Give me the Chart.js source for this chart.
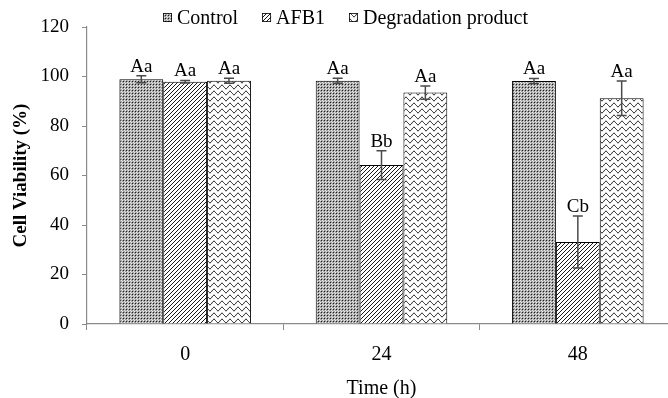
<!DOCTYPE html>
<html>
<head>
<meta charset="utf-8">
<script src="https://cdn.jsdelivr.net/npm/chart.js@4.4.1/dist/chart.umd.min.js"></script>
<style>
  html, body { margin: 0; padding: 0; background: #fff; overflow: hidden; }
  #wrap { width: 700px; height: 398px; }
</style>
</head>
<body>
<div id="wrap"><canvas id="chart" width="700" height="398"></canvas></div>
<script>
// time points (h)
const timeLabels = ["0", "24", "48"];

// cell viability (%) and SD
const controlVals = [98.9, 98.3, 98.2];
const controlErr = [1.4, 1.0, 1.0];
const afb1Vals = [97.9, 64.2, 33.1];
const afb1Err = [0.5, 5.8, 10.5];
const degVals = [98.3, 93.5, 91.2];
const degErr = [1.0, 2.7, 7.0];

// significance letters above each bar
const controlSig = ["Aa", "Aa", "Aa"];
const afb1Sig = ["Aa", "Bb", "Cb"];
const degSig = ["Aa", "Aa", "Aa"];

const yTicks = [0, 20, 40, 60, 80, 100, 120];

const serif = "'Liberation Serif', 'Times New Roman', serif";

function makePattern(w, h, draw) {
  const c = document.createElement("canvas");
  c.width = w;
  c.height = h;
  const g = c.getContext("2d");
  g.fillStyle = "#fff";
  g.fillRect(0, 0, w, h);
  draw(g);
  return g.createPattern(c, "repeat");
}

// fine dotted grid
const dotFill = makePattern(3, 3, (g) => {
  g.fillStyle = "#a4a4a4";
  g.fillRect(0, 0, 3, 3);
  g.fillStyle = "#1e1e1e";
  g.fillRect(0, 0, 1, 1);
  g.fillStyle = "#ececec";
  g.fillRect(1, 1, 1, 1);
  g.fillRect(2, 2, 1, 1);
});

// narrow diagonal stripes
const stripeFill = makePattern(4, 4, (g) => {
  g.strokeStyle = "#000";
  g.lineWidth = 0.9;
  g.beginPath();
  g.moveTo(-1, 5); g.lineTo(5, -1);
  g.moveTo(-1, 1); g.lineTo(1, -1);
  g.moveTo(3, 5); g.lineTo(5, 3);
  g.stroke();
});

// horizontal waves
const waveFill = makePattern(8, 6, (g) => {
  g.strokeStyle = "#000";
  g.lineWidth = 1;
  g.beginPath();
  for (let x = 0; x <= 8; x += 0.5) {
    const y = 3 + 1.8 * Math.sin((2 * Math.PI * x) / 8);
    if (x === 0) g.moveTo(x, y); else g.lineTo(x, y);
  }
  g.stroke();
});

const errorBars = {
  id: "errorBars",
  afterDatasetsDraw(chart) {
    const ctx = chart.ctx;
    const y = chart.scales.y;
    ctx.save();
    chart.data.datasets.forEach((ds, i) => {
      const meta = chart.getDatasetMeta(i);
      meta.data.forEach((bar, j) => {
        const v = ds.data[j];
        const e = ds.err[j];
        const top = y.getPixelForValue(v + e);
        const bot = y.getPixelForValue(v - e);
        const x = bar.x;
        ctx.strokeStyle = "#4a4a4a";
        ctx.lineWidth = 1.5;
        ctx.beginPath();
        ctx.moveTo(x, top); ctx.lineTo(x, bot);
        ctx.moveTo(x - 5, top); ctx.lineTo(x + 5, top);
        ctx.moveTo(x - 5, bot); ctx.lineTo(x + 5, bot);
        ctx.stroke();
        ctx.fillStyle = "#000";
        ctx.font = "19px " + serif;
        ctx.textAlign = "center";
        ctx.textBaseline = "alphabetic";
        ctx.fillText(ds.sig[j], x, top - 4);
      });
    });
    ctx.restore();
  }
};

const boxLegend = {
  id: "boxLegend",
  afterDraw(chart) {
    const ctx = chart.ctx;
    ctx.save();
    ctx.font = "20px " + serif;
    ctx.textBaseline = "middle";
    ctx.textAlign = "left";
    let x = 163;
    const yMid = 18;
    chart.data.datasets.forEach((ds) => {
      ctx.fillStyle = ds.backgroundColor;
      ctx.fillRect(x, yMid - 5, 9, 9);
      ctx.strokeStyle = "#000";
      ctx.lineWidth = 0.8;
      ctx.strokeRect(x + 0.5, yMid - 4.5, 8, 8);
      ctx.fillStyle = "#000";
      ctx.fillText(ds.label, x + 14, yMid + 1);
      x += 14 + ctx.measureText(ds.label).width + 24;
    });
    ctx.restore();
  }
};

const barStyle = { borderColor: "#000", borderWidth: 1, barPercentage: 1, categoryPercentage: 0.67 };

new Chart(document.getElementById("chart"), {
  type: "bar",
  data: {
    labels: timeLabels,
    datasets: [
      { label: "Control", data: controlVals, err: controlErr, sig: controlSig, backgroundColor: dotFill, ...barStyle },
      { label: "AFB1", data: afb1Vals, err: afb1Err, sig: afb1Sig, backgroundColor: stripeFill, ...barStyle },
      { label: "Degradation product", data: degVals, err: degErr, sig: degSig, backgroundColor: waveFill, ...barStyle }
    ]
  },
  options: {
    responsive: false,
    devicePixelRatio: 1,
    animation: false,
    layout: { padding: { top: 27, right: 24, left: 0, bottom: 0 } },
    plugins: { legend: { display: false }, tooltip: { enabled: false } },
    scales: {
      x: {
        grid: { drawOnChartArea: false, tickLength: 6, color: "#8a8a8a", lineWidth: 1 },
        border: { color: "#8a8a8a", width: 1.2 },
        ticks: { color: "#000", font: { family: serif, size: 20 }, padding: 13 },
        title: { display: true, text: "Time (h)", color: "#000", font: { family: serif, size: 20 }, padding: { top: 0, bottom: -3 } },
        afterFit(scale) { scale.height = 74; }
      },
      y: {
        min: 0,
        max: 120,
        afterBuildTicks(scale) { scale.ticks = yTicks.map((v) => ({ value: v })); },
        grid: { drawOnChartArea: false, tickLength: 5, color: "#8a8a8a", lineWidth: 1 },
        border: { color: "#8a8a8a", width: 1.2 },
        ticks: { color: "#000", font: { family: serif, size: 19 }, padding: 13 },
        title: { display: true, text: "Cell Viability (%)", color: "#000", font: { family: serif, size: 19, weight: "bold" }, padding: { top: 10, bottom: 0 } },
        afterFit(scale) { scale.width = 87; }
      }
    }
  },
  plugins: [errorBars, boxLegend]
});
</script>
</body>
</html>
